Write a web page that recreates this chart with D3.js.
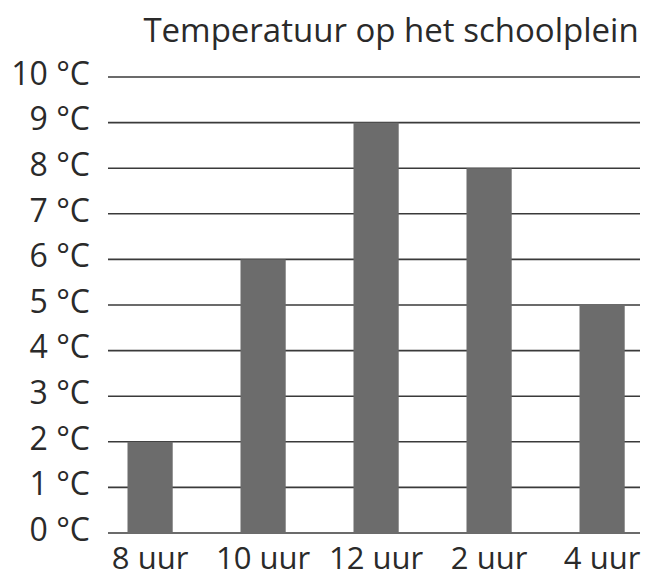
<!DOCTYPE html>
<html><head><meta charset="utf-8">
<script src="https://cdn.jsdelivr.net/npm/d3@7"></script>
<style>
html,body{margin:0;padding:0;background:#fff;}
text{font-family:"Open Sans","Noto Sans",sans-serif;fill:#2a2a2a;}
</style></head>
<body>
<svg id="chart" width="649" height="580"></svg>
<script>
const title = "Temperatuur op het schoolplein";
const categories = ["8 uur", "10 uur", "12 uur", "2 uur", "4 uur"];
const temperatures = [2, 6, 9, 8, 5];
const tickValues = [0,1,2,3,4,5,6,7,8,9,10];
const tickLabel = v => v + " °C";

const svg = d3.select("#chart");
const y = d3.scaleLinear().domain([0, 10]).range([533, 77]);
const x = d3.scaleBand().domain(categories).range([93.6, 658.6]).paddingInner(0.6).paddingOuter(0.3);

// gridlines
svg.append("g").selectAll("line").data(tickValues).join("line")
  .attr("x1", 108).attr("x2", 640)
  .attr("y1", d => y(d)).attr("y2", d => y(d))
  .attr("stroke", "#3a3a3a").attr("stroke-width", 1.6);

// y labels
const yAxis = d3.axisLeft(y).tickValues(tickValues).tickFormat(tickLabel).tickSize(0).tickPadding(0);
const gy = svg.append("g").attr("transform", "translate(90,-3)").call(yAxis);
gy.select(".domain").remove();
gy.selectAll("text").attr("font-size", 32).attr("fill", "#2a2a2a")
  .style("font-family", "'Open Sans','Noto Sans',sans-serif");

// bars
svg.append("g").selectAll("rect").data(temperatures).join("rect")
  .attr("x", (d, i) => x(categories[i]))
  .attr("width", x.bandwidth())
  .attr("y", d => y(d))
  .attr("height", d => y(0) - y(d))
  .attr("fill", "#6c6c6c");

// x labels
const xAxis = d3.axisBottom(x).tickSize(0).tickPadding(0);
const gx = svg.append("g").attr("transform", "translate(0,569)").call(xAxis);
gx.select(".domain").remove();
gx.selectAll("text").attr("font-size", 31).attr("fill", "#2a2a2a")
  .attr("dy", "0")
  .style("font-family", "'Open Sans','Noto Sans',sans-serif");

// title
svg.append("text").attr("x", 391).attr("y", 42).attr("text-anchor", "middle")
  .attr("font-size", 33).text(title);
</script>
</body></html>
